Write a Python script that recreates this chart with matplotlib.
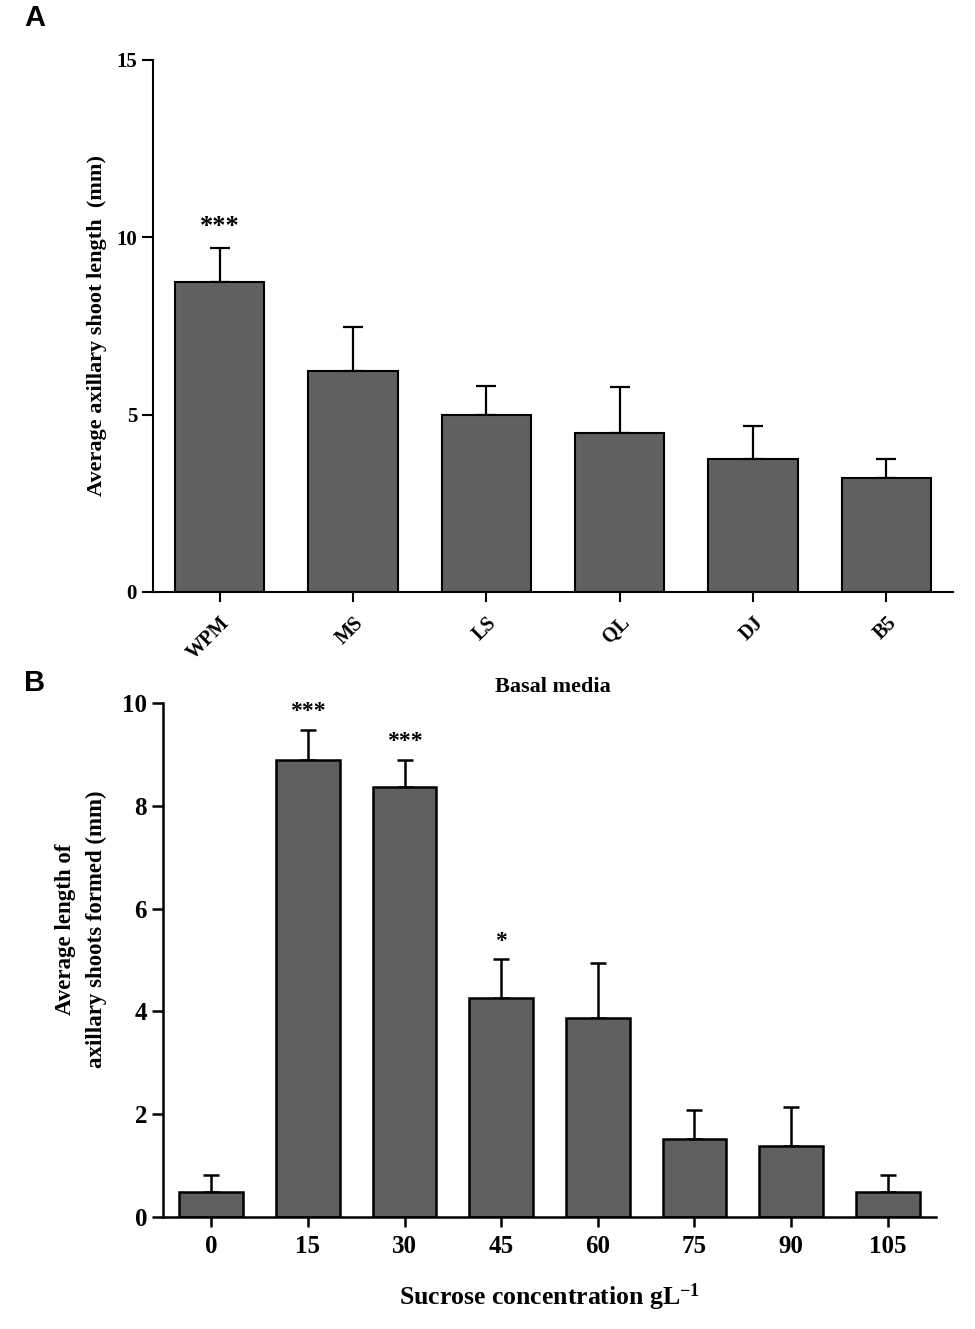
import matplotlib.pyplot as plt
import numpy as np

plt.rcParams.update({
    "font.family": "Liberation Serif",
    "font.weight": "bold",
    "mathtext.fontset": "custom",
    "mathtext.rm": "Liberation Serif:bold",
    "mathtext.bf": "Liberation Serif:bold",
    "mathtext.default": "bf",
})

# Panel A data
media = ["WPM", "MS", "LS", "QL", "DJ", "B5"]
shoot_len_a = [8.73, 6.22, 5.0, 4.47, 3.74, 3.22]
err_a = [0.96, 1.26, 0.81, 1.30, 0.95, 0.52]
stars_a = ["***", "", "", "", "", ""]

# Panel B data
sucrose = ["0", "15", "30", "45", "60", "75", "90", "105"]
shoot_len_b = [0.49, 8.89, 8.37, 4.25, 3.88, 1.51, 1.38, 0.48]
err_b = [0.33, 0.59, 0.52, 0.76, 1.07, 0.58, 0.76, 0.33]
stars_b = ["", "***", "***", "*", "", "", "", ""]

bar_color = "#5f6060"

fig = plt.figure(figsize=(9.75, 13.29), dpi=100)

# ---- Panel A ----
axA = fig.add_axes([0.1569, 0.5546, 0.8205, 0.4003])
xa = np.arange(len(media))
axA.bar(xa, shoot_len_a, width=0.67, color=bar_color, edgecolor="black", linewidth=1.5, zorder=2)
axA.errorbar(xa, shoot_len_a, yerr=[np.zeros(len(err_a)), err_a], fmt="none",
             ecolor="black", elinewidth=1.6, capsize=7.5, capthick=1.6, zorder=1)
for x, y, e, s in zip(xa, shoot_len_a, err_a, stars_a):
    if s:
        axA.text(x, y + e + 0.3, s, ha="center", va="bottom", fontsize=19, fontweight="bold")
axA.set_xlim(-0.5, 5.5)
axA.set_ylim(0, 15)
axA.set_yticks([0, 5, 10, 15])
axA.set_xticks(xa)
axA.set_xticklabels(media, rotation=45, ha="right", va="top", rotation_mode="anchor", fontsize=14.5)
axA.tick_params(axis="y", labelsize=15, length=8, width=1.5, direction="out")
axA.tick_params(axis="x", length=7, width=1.5, direction="out", pad=8)
for side in ["top", "right"]:
    axA.spines[side].set_visible(False)
for side in ["left", "bottom"]:
    axA.spines[side].set_linewidth(1.5)
axA.set_ylabel("Average axillary shoot length  (mm)", fontsize=16, fontweight="bold")
axA.yaxis.set_label_coords(-0.0575, 0.5)
axA.set_xlabel("Basal media", fontsize=16, fontweight="bold")
axA.xaxis.set_label_coords(0.5, -0.16)

# ---- Panel B ----
axB = fig.add_axes([0.1672, 0.0843, 0.7928, 0.3868])
xb = np.arange(len(sucrose))
axB.bar(xb, shoot_len_b, width=0.66, color=bar_color, edgecolor="black", linewidth=1.8, zorder=2)
axB.errorbar(xb, shoot_len_b, yerr=[np.zeros(len(err_b)), err_b], fmt="none",
             ecolor="black", elinewidth=1.8, capsize=6, capthick=1.8, zorder=1)
for x, y, e, s in zip(xb, shoot_len_b, err_b, stars_b):
    if s:
        axB.text(x, y + e + 0.15, s, ha="center", va="bottom", fontsize=17, fontweight="bold")
axB.set_xlim(-0.5, 7.5)
axB.set_ylim(0, 10)
axB.set_yticks([0, 2, 4, 6, 8, 10])
axB.set_xticks(xb)
axB.set_xticklabels(sucrose, fontsize=18)
axB.tick_params(axis="y", labelsize=18, length=8, width=1.8, direction="out")
axB.tick_params(axis="x", length=7, width=1.8, direction="out", pad=6)
for side in ["top", "right"]:
    axB.spines[side].set_visible(False)
for side in ["left", "bottom"]:
    axB.spines[side].set_linewidth(1.8)
axB.set_ylabel("Average length of\naxillary shoots formed (mm)", fontsize=16.5,
               fontweight="bold", linespacing=1.6)
axB.yaxis.set_label_coords(-0.0725, 0.56)
axB.set_xlabel("Sucrose concentration gL$^{-1}$", fontsize=18.5, fontweight="bold")
axB.xaxis.set_label_coords(0.5, -0.125)

# panel letters
fig.text(35 / 975, 1 - 18 / 1329, "A", fontsize=21, fontweight="bold",
         family="Liberation Sans", ha="center", va="center")
fig.text(35 / 975, 1 - 683 / 1329, "B", fontsize=21, fontweight="bold",
         family="Liberation Sans", ha="center", va="center")

fig.savefig("out.png", dpi=100)
